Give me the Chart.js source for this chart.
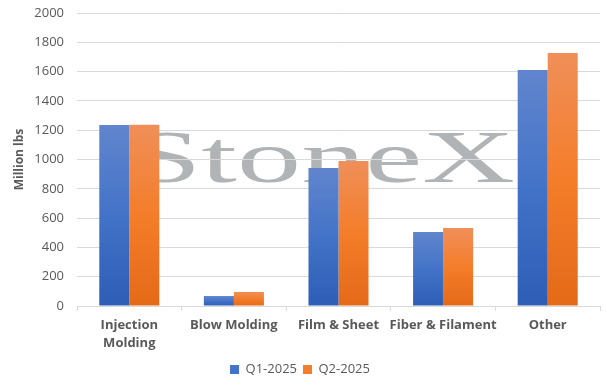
<!DOCTYPE html>
<html>
<head>
<meta charset="utf-8">
<script src="https://cdn.jsdelivr.net/npm/chart.js@4"></script>
<style>
  html, body { margin: 0; padding: 0; background: #ffffff; }
  #wrap { width: 607px; height: 386px; }
</style>
</head>
<body>
<div id="wrap"><canvas id="plasticsChart" width="607" height="386"></canvas></div>
<script>
// data
const categories = [["Injection", "Molding"], "Blow Molding", "Film & Sheet", "Fiber & Filament", "Other"];
const q1Values = [1235, 68, 942, 505, 1611];
const q2Values = [1237, 96, 990, 532, 1727];
const seriesNames = ["Q1-2025", "Q2-2025"];

const FONT = "'Open Sans', 'Noto Sans', sans-serif";
const TEXT_GREY = "#595959";
const GRID_GREY = "#d9d9d9";

// per-bar vertical gradient, lighter on top like the office style
const barGradient = (stops) => (context) => {
  const chart = context.chart;
  const yScale = chart.scales && chart.scales.y;
  if (!chart.chartArea || !yScale || context.raw === undefined) {
    return stops[1];
  }
  const top = yScale.getPixelForValue(context.raw);
  const bottom = yScale.getPixelForValue(0);
  const g = chart.ctx.createLinearGradient(0, top, 0, bottom);
  g.addColorStop(0, stops[0]);
  g.addColorStop(0.5, stops[1]);
  g.addColorStop(1, stops[2]);
  return g;
};

// watermark drawn behind the grid and bars
const watermarkPlugin = {
  id: "watermark",
  beforeDraw(chart) {
    const ctx = chart.ctx;
    const text = "StoneX";
    const left = 130;
    const right = 515;
    const baseline = 182;
    ctx.save();
    ctx.font = "75px 'Liberation Serif', 'DejaVu Serif', serif";
    ctx.fillStyle = "#b1b4b7";
    ctx.textBaseline = "alphabetic";
    const w = ctx.measureText(text).width;
    const sx = (right - left) / w;
    ctx.translate(left, baseline);
    ctx.scale(sx, 1);
    ctx.fillText(text, 0, 0);
    ctx.restore();
  },
};

const ctx = document.getElementById("plasticsChart").getContext("2d");
new Chart(ctx, {
  type: "bar",
  data: {
    labels: categories,
    datasets: [
      {
        label: seriesNames[0],
        data: q1Values,
        backgroundColor: barGradient(["#6185cd", "#4373c8", "#2d5db5"]),
        borderWidth: 0,
        categoryPercentage: 0.574,
        barPercentage: 1.0,
      },
      {
        label: seriesNames[1],
        data: q2Values,
        backgroundColor: barGradient(["#f08f59", "#f47d2a", "#e46a18"]),
        borderWidth: 0,
        categoryPercentage: 0.574,
        barPercentage: 1.0,
      },
    ],
  },
  plugins: [watermarkPlugin],
  options: {
    responsive: false,
    animation: false,
    layout: {
      padding: { left: 0, right: 7, top: 0, bottom: 0 },
    },
    plugins: {
      tooltip: { enabled: false },
      legend: {
        position: "bottom",
        labels: {
          color: TEXT_GREY,
          font: { family: FONT, size: 13 },
          boxWidth: 9,
          boxHeight: 9,
          padding: 6,
          generateLabels: (chart) =>
            chart.data.datasets.map((ds, i) => ({
              text: ds.label,
              fillStyle: i === 0 ? "#4373c8" : "#f47d2a",
              strokeStyle: "transparent",
              lineWidth: 0,
              datasetIndex: i,
              fontColor: TEXT_GREY,
            })),
        },
      },
    },
    scales: {
      x: {
        grid: {
          drawOnChartArea: false,
          drawTicks: true,
          tickLength: 5,
          offset: true,
          color: GRID_GREY,
        },
        border: { color: GRID_GREY, width: 1 },
        ticks: {
          color: TEXT_GREY,
          font: { family: FONT, size: 13, weight: "bold", lineHeight: 1.35 },
          padding: 6,
          maxRotation: 0,
          autoSkip: false,
        },
        afterFit: (scale) => {
          scale.height = 51;
        },
      },
      y: {
        min: 0,
        max: 2000,
        grid: { color: GRID_GREY, drawTicks: false },
        border: { display: false },
        ticks: {
          stepSize: 200,
          color: TEXT_GREY,
          font: { family: FONT, size: 13 },
          padding: 13,
          callback: (value) => String(value),
        },
        title: {
          display: true,
          text: "Million lbs",
          color: TEXT_GREY,
          font: { family: FONT, size: 12, weight: "bold" },
          padding: { top: 12, bottom: 0 },
        },
        afterFit: (scale) => {
          scale.width = 77;
          scale.paddingTop = 13;
          scale.paddingBottom = 0;
        },
      },
    },
  },
});
</script>
</body>
</html>
